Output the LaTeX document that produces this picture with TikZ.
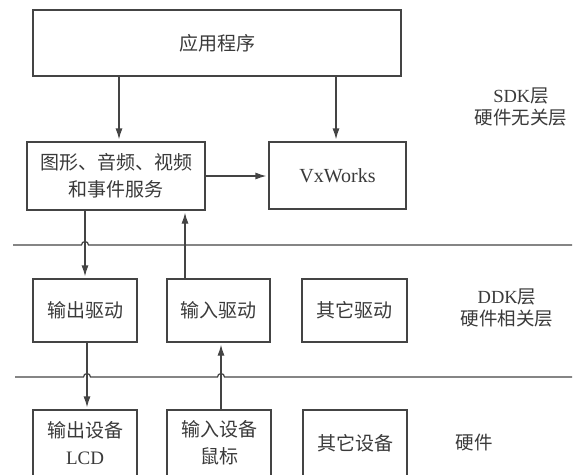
\documentclass[tikz,border=0pt]{standalone}
\usepackage{fontspec}
\setmainfont{Liberation Serif}
\newfontfamily\cjk{Noto Sans CJK SC}
\usetikzlibrary{arrows.meta}
\definecolor{linec}{HTML}{444444}
\definecolor{txtc}{HTML}{3A3A3A}
\begin{document}
\begin{tikzpicture}[x=1pt,y=-1pt,
  box/.style={draw=linec, line width=1.2pt, inner sep=0pt, text=txtc,
    font=\cjk\fontsize{19}{27}\selectfont, align=center},
  latinbox/.style={box, font=\fontsize{20}{27}\selectfont},
  arr/.style={draw=linec, line width=1.2pt, shorten >=2pt, -{Latex[length=11pt,width=7pt]}},
  sep/.style={draw=linec, line width=1.2pt},
  lab/.style={text=txtc, inner sep=0pt, font=\fontsize{18.5}{22}\selectfont, align=center}]
\useasboundingbox (0,0) rectangle (577,474);
\clip (0,0) rectangle (577,474);
\fill[white] (0,0) rectangle (577,474);

% boxes
\node[box, minimum width=368pt, minimum height=66pt] (app) at (217,43) {应用程序};
\node[box, minimum width=178pt, minimum height=68pt] (gfx) at (116,176) {图形、音频、视频\\和事件服务};
\node[latinbox, minimum width=137pt, minimum height=67pt] (vx) at (337.5,175.5) {VxWorks};

\node[box, minimum width=104pt, minimum height=63pt] (outdrv) at (85,310.5) {输出驱动};
\node[box, minimum width=103pt, minimum height=63pt] (indrv) at (218.5,310.5) {输入驱动};
\node[box, minimum width=105pt, minimum height=63pt] (othdrv) at (354.5,310.5) {其它驱动};

\node[box, minimum width=104pt, minimum height=66pt] (outdev) at (85,443) {输出设备\\{\rmfamily LCD}};
\node[box, minimum width=104pt, minimum height=66pt] (indev) at (219,443) {输入设备\\鼠标};
\node[box, minimum width=104pt, minimum height=66pt] (othdev) at (355,443) {其它设备};

% layer labels
\node[lab] (sdk) at (521,107) {SDK{\cjk 层}\\{\cjk 硬件无关层}};
\node[lab] (ddk) at (507,307.5) {DDK{\cjk 层}\\{\cjk 硬件相关层}};
\node[lab] (hw) at (474,443) {\cjk 硬件};

% separators with line jumps
\draw[sep] (13,245) -- (81.5,245) arc[start angle=180, end angle=360, radius=3.5] -- (572,245);
\draw[sep] (15,377) -- (83.5,377) arc[start angle=180, end angle=360, radius=3.5]
  -- (217.5,377) arc[start angle=180, end angle=360, radius=3.5] -- (572,377);

% connectors
\coordinate (xa) at (119,0);
\coordinate (xb) at (336,0);
\coordinate (xc) at (85,0);
\coordinate (xd) at (185,0);
\coordinate (xe) at (87,0);
\coordinate (xf) at (221,0);
\draw[arr] (app.south -| xa) -- (gfx.north -| xa);
\draw[arr] (app.south -| xb) -- (vx.north -| xb);
\draw[arr] (gfx.east) -- (gfx.east -| vx.west);
\draw[arr] (gfx.south -| xc) -- (outdrv.north -| xc);
\draw[arr] (indrv.north -| xd) -- (gfx.south -| xd);
\draw[arr] (outdrv.south -| xe) -- (outdev.north -| xe);
\draw[arr] (indev.north -| xf) -- (indrv.south -| xf);
\end{tikzpicture}
\end{document}
